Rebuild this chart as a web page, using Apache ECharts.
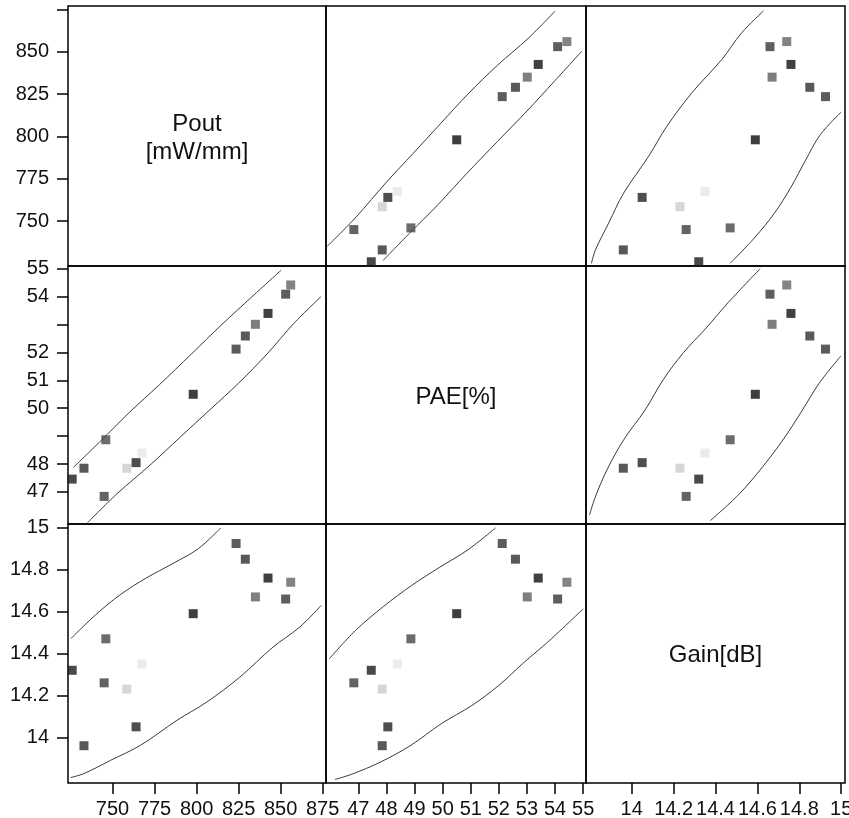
<!DOCTYPE html>
<html>
<head>
<meta charset="utf-8">
<script src="https://cdn.jsdelivr.net/npm/echarts@6/dist/echarts.min.js"></script>
<style>
  html, body { margin: 0; padding: 0; background: #fff; }
  #chart { width: 849px; height: 818px; }
</style>
</head>
<body>
<div id="chart"></div>
<script>
// Measured device parameters, one entry per sample
const pout = [726, 733, 746, 745, 758.5, 764, 767.5, 798, 823.5, 829, 835, 842.5, 853, 856];
const pae  = [47.46, 47.85, 48.87, 46.84, 47.85, 48.05, 48.39, 50.5, 52.12, 52.59, 53.01, 53.4, 54.09, 54.42];
const gain = [14.32, 13.96, 14.47, 14.26, 14.23, 14.05, 14.35, 14.59, 14.925, 14.85, 14.67, 14.76, 14.66, 14.74];
const shade = ['#1c1c1c', '#2e2e2e', '#474747', '#3c3c3c', '#cccccc', '#222222', '#e6e6e6',
               '#0e0e0e', '#333333', '#303030', '#5e5e5e', '#101010', '#363636', '#646464'];

// Variable names shown on the diagonal
const varNames = ['Pout\n[mW/mm]', 'PAE[%]', 'Gain[dB]'];

// Tick positions and labelled ticks for each variable
const poutTicks = [750, 775, 800, 825, 850, 875];
const poutYLabels = [750, 775, 800, 825, 850];
const poutXLabels = [750, 775, 800, 825, 850, 875];
const paeTicks = [47, 48, 49, 50, 51, 52, 53, 54, 55];
const paeYLabels = [47, 48, 50, 51, 52, 54, 55];
const paeXLabels = [47, 48, 49, 50, 51, 52, 53, 54, 55];
const gainTicks = [14, 14.2, 14.4, 14.6, 14.8, 15];
const gainYLabels = [14, 14.2, 14.4, 14.6, 14.8, 15];
const gainXLabels = [14, 14.2, 14.4, 14.6, 14.8, 15];

// Axis extents
const poutRange = [723.5, 877];
const paeRange = [45.85, 55.1];
const gainRange = [13.782, 15.018];

// Density-ellipse boundary curves for each pair, as [first var, second var]
const poutPaeHigh = [[726.7, 47.88], [742.5, 48.8], [760, 49.85], [778, 50.85], [797, 51.95], [815, 53.0], [833, 54.0], [850.3, 54.95]];
const poutPaeLow  = [[735.2, 45.9], [752.4, 46.92], [773, 48.0], [790, 48.95], [808, 49.95], [825, 50.9], [842, 51.95], [858, 53.05], [874, 54.0]];
const poutGainHigh = [[725.1, 14.47], [740, 14.585], [755, 14.683], [770, 14.76], [786, 14.83], [801, 14.9], [814.3, 14.999]];
const poutGainLow  = [[725.1, 13.808], [733, 13.827], [748.8, 13.89], [766.6, 13.962], [788.3, 14.081], [806, 14.168], [825.7, 14.287], [845.4, 14.43], [861.2, 14.525], [874.1, 14.629]];
const paeGainHigh = [[45.97, 14.375], [46.9, 14.51], [47.9, 14.625], [48.9, 14.725], [49.9, 14.812], [50.9, 14.895], [51.88, 14.999]];
const paeGainLow  = [[46.17, 13.799], [46.77, 13.824], [47.79, 13.882], [48.87, 13.962], [49.95, 14.065], [51.04, 14.152], [52.0, 14.248], [52.84, 14.351], [53.8, 14.462], [55.0, 14.613]];

const vars = [
  { values: pout, range: poutRange, ticks: poutTicks, yLabels: poutYLabels, xLabels: poutXLabels },
  { values: pae,  range: paeRange,  ticks: paeTicks,  yLabels: paeYLabels,  xLabels: paeXLabels },
  { values: gain, range: gainRange, ticks: gainTicks, yLabels: gainYLabels, xLabels: gainXLabels }
];
const pairCurves = {
  '0-1': [poutPaeHigh, poutPaeLow],
  '0-2': [poutGainHigh, poutGainLow],
  '1-2': [paeGainHigh, paeGainLow]
};

// Panel layout
const colLeft = [68, 326, 586], colWidth = [258, 260, 259];
const rowTop = [6, 266, 524], rowHeight = [260, 258, 259];

const FONT = '"Liberation Sans", Arial, Helvetica, sans-serif';
const grids = [], xAxes = [], yAxes = [], series = [], graphics = [];

function axisFor(v, type, showLabels, gridIndex) {
  const isX = type === 'x';
  return {
    type: 'value',
    gridIndex: gridIndex,
    min: v.range[0],
    max: v.range[1],
    position: isX ? 'bottom' : 'left',
    splitLine: { show: false },
    axisLine: { show: false },
    axisTick: {
      show: showLabels,
      inside: false,
      length: 11,
      customValues: v.ticks,
      lineStyle: { color: '#000', width: 1.5 }
    },
    axisLabel: {
      show: showLabels,
      customValues: isX ? v.xLabels : v.yLabels,
      margin: isX ? 16 : 19,
      color: '#111',
      fontSize: 20,
      fontFamily: FONT,
      hideOverlap: false,
      formatter: function (val) { return String(+val.toFixed(2)); }
    }
  };
}

let gi = 0;
for (let r = 0; r < 3; r++) {
  for (let c = 0; c < 3; c++) {
    grids.push({
      left: colLeft[c], top: rowTop[r], width: colWidth[c], height: rowHeight[r],
      show: true, borderColor: '#000', borderWidth: 1.5, backgroundColor: 'transparent',
      containLabel: false, outerBoundsMode: 'none'
    });
    xAxes.push(axisFor(vars[c], 'x', r === 2, gi));
    yAxes.push(axisFor(vars[r], 'y', c === 0, gi));

    if (r === c) {
      graphics.push({
        type: 'text',
        x: colLeft[c] + colWidth[c] / 2,
        y: rowTop[r] + rowHeight[r] / 2 + (r === 0 ? 2 : 2),
        style: {
          text: varNames[r], fill: '#111', fontSize: 24, fontFamily: FONT,
          align: 'center', verticalAlign: 'middle', lineHeight: 28
        }
      });
    } else {
      const xv = vars[c].values, yv = vars[r].values;
      series.push({
        type: 'scatter', xAxisIndex: gi, yAxisIndex: gi,
        symbol: 'rect', symbolSize: 9, z: 3,
        data: xv.map(function (x, i) {
          return { value: [x, yv[i]], itemStyle: { color: shade[i] } };
        })
      });
      const key = Math.min(r, c) + '-' + Math.max(r, c);
      const swap = c > r; // curves stored as [lower index var, higher index var]
      pairCurves[key].forEach(function (curve) {
        series.push({
          type: 'line', xAxisIndex: gi, yAxisIndex: gi,
          showSymbol: false, smooth: 0.35, z: 2, silent: true,
          lineStyle: { color: '#3a3a3a', width: 1 },
          data: curve.map(function (p) { return swap ? [p[1], p[0]] : [p[0], p[1]]; })
        });
      });
    }
    gi++;
  }
}

const chart = echarts.init(document.getElementById('chart'), null, { renderer: 'canvas' });
chart.setOption({
  backgroundColor: '#fff',
  animation: false,
  grid: grids,
  xAxis: xAxes,
  yAxis: yAxes,
  series: series,
  graphic: graphics
});
</script>
</body>
</html>
